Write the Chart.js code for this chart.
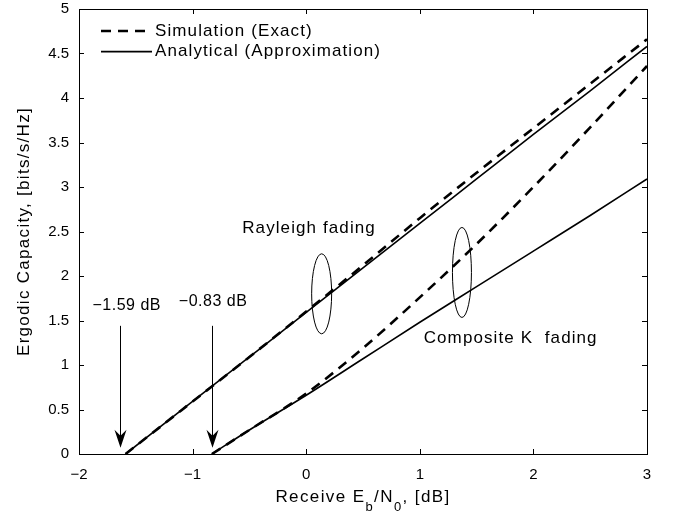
<!DOCTYPE html>
<html>
<head>
<meta charset="utf-8">
<script src="https://cdn.jsdelivr.net/npm/chart.js@4.4.0/dist/chart.umd.min.js"></script>
<style>
  body { margin: 0; background: #fff; }
  canvas { display: block; }
</style>
</head>
<body>
<canvas id="capacity-chart" width="674" height="516"></canvas>
<script>
// values
const rayleighX = [-1.59, -1, -0.5, 0, 0.5, 1, 1.5, 2, 2.5, 3];
const rayleighSim = [0, 0.59, 1.09, 1.6, 2.12, 2.65, 3.16, 3.66, 4.16, 4.66];
const rayleighAna = [0, 0.59, 1.09, 1.59, 2.09, 2.59, 3.09, 3.59, 4.08, 4.58];

const compositeX = [-0.83, -0.5, 0, 0.5, 1, 1.5, 2, 2.5, 3];
const compositeSim = [0, 0.27, 0.68, 1.19, 1.76, 2.36, 3.0, 3.67, 4.36];
const compositeAna = [0, 0.27, 0.66, 1.07, 1.48, 1.88, 2.28, 2.68, 3.09];

const xTicks = [-2, -1, 0, 1, 2, 3];
const yTicks = [0, 0.5, 1, 1.5, 2, 2.5, 3, 3.5, 4, 4.5, 5];

const legendLabels = ['Simulation (Exact)', 'Analytical (Approximation)'];

const FONT = '"Liberation Sans", Arial, Helvetica, sans-serif';
const DASH = [10, 7];

function toPoints(xs, ys) {
    return xs.map(function(x, i) { return { x: x, y: ys[i] }; });
}

function fmt(v) {
    return v < 0 ? '\u2212' + Math.abs(v) : String(v);
}

function curve(xs, ys, dashed) {
    return {
        data: toPoints(xs, ys),
        borderColor: '#000',
        borderWidth: dashed ? 2.6 : 1.6,
        borderDash: dashed ? DASH : [],
        pointRadius: 0,
        showLine: true,
        fill: false,
        cubicInterpolationMode: 'monotone'
    };
}

// frame, inward ticks, notes, legend and axis titles
const overlay = {
    id: 'overlay',
    afterDatasetsDraw(chart) {
        const ctx = chart.ctx;
        const xs = chart.scales.x;
        const ys = chart.scales.y;
        const a = chart.chartArea;
        const px = v => xs.getPixelForValue(v);
        const py = v => ys.getPixelForValue(v);

        ctx.save();
        ctx.strokeStyle = '#000';
        ctx.fillStyle = '#000';
        ctx.lineWidth = 1;

        // frame
        ctx.strokeRect(Math.round(a.left) + 0.5, Math.round(a.top) + 0.5,
            Math.round(a.right - a.left), Math.round(a.bottom - a.top));

        // ticks pointing in, on all four sides
        const tl = 5;
        ctx.beginPath();
        xTicks.forEach(function(t) {
            const x = Math.round(px(t)) + 0.5;
            ctx.moveTo(x, a.bottom); ctx.lineTo(x, a.bottom - tl);
            ctx.moveTo(x, a.top); ctx.lineTo(x, a.top + tl);
        });
        yTicks.forEach(function(t) {
            const y = Math.round(py(t)) + 0.5;
            ctx.moveTo(a.left, y); ctx.lineTo(a.left + tl, y);
            ctx.moveTo(a.right, y); ctx.lineTo(a.right - tl, y);
        });
        ctx.stroke();

        // ellipses around each pair of curves
        ctx.beginPath();
        ctx.ellipse(px(0.136), py(1.80), 10, 40, 0, 0, Math.PI * 2);
        ctx.stroke();
        ctx.beginPath();
        ctx.ellipse(px(1.371), py(2.04), 9.5, 45, 0, 0, Math.PI * 2);
        ctx.stroke();

        // arrows marking the minimum Eb/N0
        function arrow(xv) {
            const x = Math.round(px(xv)) + 0.5;
            const y0 = py(1.44);
            const y1 = py(0.07);
            ctx.beginPath();
            ctx.moveTo(x, y0);
            ctx.lineTo(x, y1 - 8);
            ctx.stroke();
            ctx.beginPath();
            ctx.moveTo(x, y1);
            ctx.lineTo(x - 6, y1 - 18);
            ctx.lineTo(x, y1 - 12);
            ctx.lineTo(x + 6, y1 - 18);
            ctx.closePath();
            ctx.fill();
        }
        arrow(-1.635);
        arrow(-0.825);

        ctx.textAlign = 'center';
        ctx.textBaseline = 'middle';
        ctx.font = '16px ' + FONT;
        ctx.letterSpacing = '0.5px';
        ctx.fillText('\u22121.59 dB', px(-1.58), py(1.67));
        ctx.fillText('\u22120.83 dB', px(-0.82), py(1.71));

        ctx.font = '17px ' + FONT;
        ctx.letterSpacing = '1.1px';
        ctx.fillText('Rayleigh fading', px(0.025), py(2.54));
        ctx.fillText('Composite K  fading', px(1.80), py(1.30));

        // legend
        ctx.textAlign = 'left';
        const lx = a.left + 22;
        [true, false].forEach(function(dashed, i) {
            const y = a.top + 22 + i * 20.6;
            ctx.beginPath();
            ctx.lineWidth = dashed ? 2.6 : 1.6;
            ctx.setLineDash(dashed ? DASH : []);
            ctx.moveTo(lx, y);
            ctx.lineTo(lx + 51, y);
            ctx.stroke();
            ctx.setLineDash([]);
            ctx.fillText(legendLabels[i], lx + 54, y);
        });

        // x title with subscripts
        ctx.textBaseline = 'alphabetic';
        ctx.letterSpacing = '1.4px';
        const big = '17px ' + FONT;
        const small = '13px ' + FONT;
        const parts = [['Receive E', big, 0], ['b', small, 9], ['/N', big, 0], ['0', small, 9], [', [dB]', big, 0]];
        let w = 0;
        parts.forEach(function(p) { ctx.font = p[1]; w += ctx.measureText(p[0]).width; });
        let x = (a.left + a.right) / 2 - w / 2;
        parts.forEach(function(p) {
            ctx.font = p[1];
            ctx.fillText(p[0], x, 502 + p[2]);
            x += ctx.measureText(p[0]).width;
        });

        // y title
        ctx.translate(24, (a.top + a.bottom) / 2);
        ctx.rotate(-Math.PI / 2);
        ctx.textAlign = 'center';
        ctx.textBaseline = 'middle';
        ctx.font = '17px ' + FONT;
        ctx.letterSpacing = '1.3px';
        ctx.fillText('Ergodic Capacity, [bits/s/Hz]', 0, 0);

        ctx.restore();
    }
};

new Chart(document.getElementById('capacity-chart').getContext('2d'), {
    type: 'scatter',
    data: {
        datasets: [
            curve(rayleighX, rayleighSim, true),
            curve(rayleighX, rayleighAna, false),
            curve(compositeX, compositeSim, true),
            curve(compositeX, compositeAna, false)
        ]
    },
    options: {
        responsive: false,
        animation: false,
        layout: { padding: { left: 0, right: 27, top: 9, bottom: 0 } },
        plugins: {
            legend: { display: false },
            tooltip: { enabled: false }
        },
        scales: {
            x: {
                type: 'linear',
                min: -2,
                max: 3,
                afterBuildTicks: function(scale) {
                    scale.ticks = xTicks.map(function(v) { return { value: v }; });
                },
                ticks: {
                    color: '#000',
                    font: { family: FONT, size: 15 },
                    padding: 12,
                    maxRotation: 0,
                    callback: fmt
                },
                grid: { display: false, drawTicks: false },
                border: { display: false },
                afterFit: function(scale) {
                    scale.height = 62;
                    scale.paddingLeft = 0;
                    scale.paddingRight = 0;
                }
            },
            y: {
                type: 'linear',
                min: 0,
                max: 5,
                afterBuildTicks: function(scale) {
                    scale.ticks = yTicks.map(function(v) { return { value: v }; });
                },
                ticks: {
                    color: '#000',
                    font: { family: FONT, size: 15 },
                    padding: 10,
                    callback: fmt
                },
                grid: { display: false, drawTicks: false },
                border: { display: false },
                afterFit: function(scale) {
                    scale.width = 79;
                    scale.paddingTop = 0;
                    scale.paddingBottom = 0;
                }
            }
        }
    },
    plugins: [overlay]
});
</script>
</body>
</html>
